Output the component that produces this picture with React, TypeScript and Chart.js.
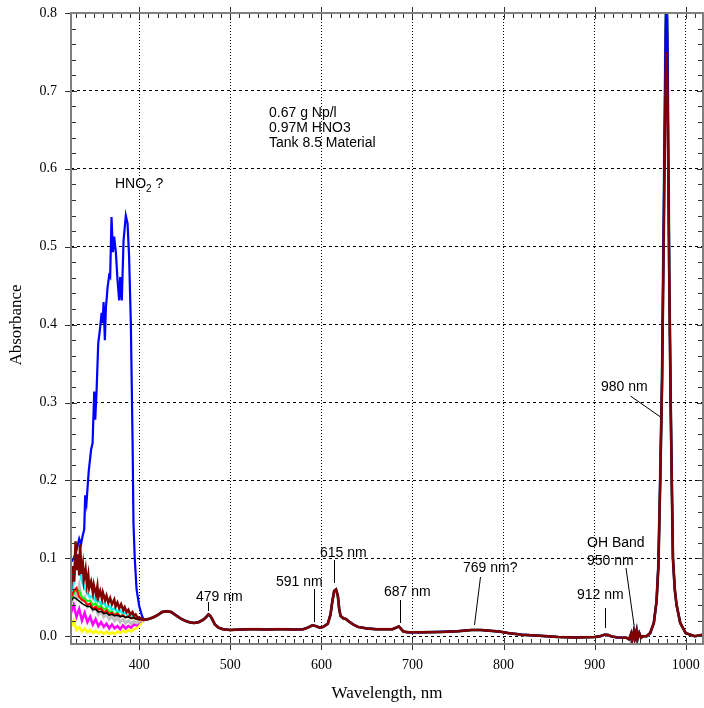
import React, { useEffect, useRef } from "react";
import { Chart, registerables } from "chart.js";

Chart.register(...registerables);

// ---------- tick labels ----------
const X_TICKS = [400, 500, 600, 700, 800, 900, 1000];
const Y_TICKS = [0, 0.1, 0.2, 0.3, 0.4, 0.5, 0.6, 0.7, 0.8];

// ---------- shared visible spectrum (405-955 nm) ----------
const tailWl = [405, 410, 415, 420, 425, 430, 435, 440, 445, 450, 455, 460, 465, 470, 473, 476, 478, 480, 483, 487, 492, 500, 510, 520, 530, 540, 550, 560, 570, 580, 585, 590, 594, 598, 602, 607, 610, 612, 614, 616, 618, 619.5, 621, 624, 627, 630, 635, 640, 650, 660, 670, 678, 682, 685, 687, 690, 695, 710, 730, 750, 765, 775, 785, 795, 805, 820, 840, 860, 880, 900, 906, 911, 915, 919, 925, 935, 938, 940, 941, 943, 944, 946, 947, 949, 951, 953];
const tailAbs = [0.021, 0.022, 0.024, 0.027, 0.031, 0.032, 0.031, 0.027, 0.023, 0.02, 0.018, 0.017, 0.018, 0.021, 0.024, 0.028, 0.026, 0.022, 0.015, 0.011, 0.009, 0.008, 0.0085, 0.009, 0.009, 0.0085, 0.009, 0.009, 0.0085, 0.009, 0.011, 0.014, 0.013, 0.011, 0.012, 0.016, 0.028, 0.045, 0.058, 0.06, 0.052, 0.035, 0.026, 0.023, 0.022, 0.019, 0.015, 0.012, 0.01, 0.009, 0.009, 0.009, 0.011, 0.0125, 0.01, 0.006, 0.005, 0.005, 0.0055, 0.0065, 0.008, 0.008, 0.007, 0.006, 0.004, 0.002, 0.0005, -0.001, -0.0015, -0.001, 0.0, 0.002, 0.0015, -0.0005, -0.0015, -0.002, -0.004, 0.003, -0.005, 0.006, -0.003, 0.007, -0.004, 0.004, -0.002, 0.0];

// ---------- 980 nm band ----------
const peakWl = [957, 961, 965, 968, 970, 972, 974, 976, 978, 979, 980, 981, 982, 983.5, 984.7, 986, 988, 990, 994, 1000, 1010, 1019];
const peakMaroon = [0.0, 0.004, 0.017, 0.045, 0.09, 0.2, 0.32, 0.52, 0.72, 0.75, 0.7, 0.58, 0.45, 0.3, 0.2, 0.1, 0.06, 0.04, 0.017, 0.004, 0.0, 0.002];
const peakHigh = [0.0, 0.004, 0.017, 0.045, 0.09, 0.2, 0.33, 0.55, 0.78, 0.84, 0.76, 0.6, 0.46, 0.3, 0.2, 0.1, 0.06, 0.04, 0.017, 0.004, 0.0, 0.002];

// ---------- UV region per series ----------
const blueWl = [325, 328, 331, 334, 336, 338, 339.5, 340.6, 342, 344.4, 347, 348.7, 350.5, 351.6, 353, 354.9, 356.7, 358.6, 359.7, 360.8, 362.2, 363.3, 365.2, 366.9, 368, 369.5, 371, 372.4, 374.3, 376.1, 377.9, 379, 380.8, 382.7, 385.2, 387.1, 388.8, 390.7, 392.6, 393.6, 395, 397, 400, 403];
const blueAbs = [0.095, 0.1, 0.11, 0.125, 0.118, 0.13, 0.137, 0.181, 0.171, 0.211, 0.239, 0.248, 0.314, 0.278, 0.312, 0.376, 0.393, 0.415, 0.402, 0.429, 0.38, 0.421, 0.448, 0.463, 0.461, 0.538, 0.493, 0.513, 0.492, 0.457, 0.431, 0.461, 0.431, 0.508, 0.54, 0.53, 0.487, 0.402, 0.252, 0.145, 0.1, 0.06, 0.038, 0.026];

const maroonWl = [325, 327, 328.5, 330, 331, 333, 334, 335, 336.5, 338, 339, 341, 342.5, 344, 345, 347, 349, 350, 352.5, 354, 355, 357, 359, 360, 362.5, 364, 366, 368, 370, 372.5, 374, 376, 378, 380, 382.5, 384, 386, 388, 390, 392.5, 394, 396, 398, 400];
const maroonAbs = [0.06, 0.09, 0.07, 0.122, 0.085, 0.105, 0.078, 0.118, 0.08, 0.092, 0.072, 0.086, 0.066, 0.078, 0.062, 0.07, 0.056, 0.066, 0.053, 0.064, 0.05, 0.058, 0.048, 0.056, 0.046, 0.052, 0.043, 0.049, 0.041, 0.047, 0.038, 0.043, 0.036, 0.041, 0.033, 0.037, 0.031, 0.034, 0.028, 0.031, 0.026, 0.028, 0.024, 0.024];

const uvWl = [325, 328, 331, 334, 337, 340, 343, 346, 349, 352, 355, 358, 361, 364, 367, 370, 373, 376, 379, 382, 385, 388, 391, 394, 397, 400];
const cyanAbs = [0.05, 0.07, 0.1, 0.09, 0.07, 0.062, 0.055, 0.05, 0.052, 0.045, 0.047, 0.041, 0.043, 0.037, 0.039, 0.034, 0.036, 0.031, 0.033, 0.029, 0.03, 0.026, 0.027, 0.024, 0.024, 0.022];
const grayAbs = [0.04, 0.06, 0.05, 0.065, 0.045, 0.05, 0.038, 0.042, 0.033, 0.036, 0.028, 0.032, 0.025, 0.029, 0.022, 0.026, 0.02, 0.024, 0.018, 0.022, 0.017, 0.02, 0.016, 0.019, 0.017, 0.019];
const magentaAbs = [0.03, 0.04, 0.025, 0.035, 0.02, 0.03, 0.018, 0.025, 0.015, 0.022, 0.013, 0.018, 0.012, 0.016, 0.01, 0.015, 0.01, 0.013, 0.009, 0.014, 0.01, 0.013, 0.011, 0.015, 0.014, 0.018];
const yellowAbs = [0.012, 0.02, 0.008, 0.012, 0.006, 0.01, 0.005, 0.008, 0.004, 0.007, 0.004, 0.006, 0.003, 0.006, 0.003, 0.005, 0.003, 0.006, 0.004, 0.007, 0.005, 0.008, 0.006, 0.009, 0.01, 0.014];
const redAbs = [0.05, 0.058, 0.062, 0.05, 0.047, 0.045, 0.04, 0.042, 0.035, 0.038, 0.034, 0.036, 0.03, 0.033, 0.028, 0.03, 0.027, 0.029, 0.025, 0.027, 0.024, 0.026, 0.023, 0.024, 0.022, 0.021];
const greenAbs = [0.045, 0.055, 0.06, 0.058, 0.05, 0.048, 0.045, 0.046, 0.04, 0.042, 0.037, 0.039, 0.034, 0.036, 0.031, 0.032, 0.028, 0.03, 0.026, 0.027, 0.024, 0.025, 0.023, 0.023, 0.022, 0.021];
const blackAbs = [0.045, 0.05, 0.048, 0.045, 0.042, 0.04, 0.038, 0.038, 0.034, 0.035, 0.031, 0.032, 0.029, 0.03, 0.027, 0.028, 0.026, 0.027, 0.025, 0.026, 0.024, 0.025, 0.023, 0.024, 0.022, 0.022];

// ---------- annotations ----------
const noteLines = ["0.67 g Np/l", "0.97M HNO3", "Tank 8.5 Material"];
const peakLabels = [
  { text: "479 nm", x: 196, y: 597, line: [208, 602, 208, 611] },
  { text: "591 nm", x: 276, y: 582, line: [314, 589, 314, 622] },
  { text: "615 nm", x: 320, y: 553, line: [334, 560, 334, 583] },
  { text: "687 nm", x: 384, y: 592, line: [400, 600, 400, 623] },
  { text: "769 nm?", x: 463, y: 568, line: [480, 577, 474, 625] },
  { text: "912 nm", x: 577, y: 595, line: [605, 608, 605, 628] },
  { text: "980 nm", x: 601, y: 387, line: [630, 396, 660, 417] },
];

type Pt = { x: number; y: number };
function pts(wl: number[], ab: number[]): Pt[] {
  return wl.map((w, i) => ({ x: w, y: ab[i] }));
}
function full(uvW: number[], uvA: number[], pk: number[]): Pt[] {
  return [...pts(uvW, uvA), ...pts(tailWl, tailAbs), ...pts(peakWl, pk)];
}

const SANS = "'Liberation Sans', Arial, sans-serif";
const SERIF = "'Liberation Serif', 'Times New Roman', serif";

const framePlugin = {
  id: "framePlugin",
  afterDraw(chart: any) {
    const { ctx, chartArea } = chart;
    const { left, right, top, bottom } = chartArea;
    const xs = chart.scales.x;
    const ys = chart.scales.y;
    ctx.save();
    // ticks
    ctx.strokeStyle = "#333";
    ctx.lineWidth = 1;
    ctx.beginPath();
    for (let w = 330; w <= 1010; w += 10) {
      const px = Math.round(xs.getPixelForValue(w)) + 0.5;
      const major = w % 100 === 0;
      if (major) {
        ctx.moveTo(px, bottom + 6); ctx.lineTo(px, bottom - 6);
        ctx.moveTo(px, top - 6); ctx.lineTo(px, top + 6);
      } else {
        ctx.moveTo(px, bottom); ctx.lineTo(px, bottom - 5);
        ctx.moveTo(px, top); ctx.lineTo(px, top + 5);
      }
    }
    for (let k = 0; k <= 40; k++) {
      const v = k * 0.02;
      const py = Math.round(ys.getPixelForValue(v)) + 0.5;
      const major = k % 5 === 0;
      if (major) {
        ctx.moveTo(left - 6, py); ctx.lineTo(left + 6, py);
        ctx.moveTo(right - 6, py); ctx.lineTo(right + 6, py);
      } else {
        ctx.moveTo(left, py); ctx.lineTo(left + 5, py);
        ctx.moveTo(right, py); ctx.lineTo(right - 5, py);
      }
    }
    ctx.stroke();
    // frame
    ctx.strokeStyle = "#808080";
    ctx.lineWidth = 2;
    ctx.strokeRect(left, top, right - left, bottom - top);

    // axis titles
    ctx.fillStyle = "#000";
    ctx.font = `17px ${SERIF}`;
    ctx.textAlign = "center";
    ctx.textBaseline = "middle";
    ctx.fillText("Wavelength, nm", (left + right) / 2, 694);
    ctx.save();
    ctx.translate(17, 325);
    ctx.rotate(-Math.PI / 2);
    ctx.fillText("Absorbance", 0, 0);
    ctx.restore();

    // annotations
    ctx.font = `14px ${SANS}`;
    ctx.textAlign = "left";
    ctx.textBaseline = "middle";
    noteLines.forEach((t, i) => ctx.fillText(t, 269, 113 + i * 15));
    // HNO2 ?
    ctx.fillText("HNO", 115, 184);
    const wH = ctx.measureText("HNO").width;
    ctx.font = `10px ${SANS}`;
    ctx.fillText("2", 115 + wH, 189);
    const w2 = ctx.measureText("2").width;
    ctx.font = `14px ${SANS}`;
    ctx.fillText(" ?", 115 + wH + w2, 184);
    // OH band
    ctx.fillText("OH Band", 587, 543);
    ctx.fillText("950 nm", 587, 561);
    ctx.strokeStyle = "#000";
    ctx.lineWidth = 1;
    ctx.beginPath();
    ctx.moveTo(626, 568); ctx.lineTo(634, 625);
    peakLabels.forEach((p) => {
      ctx.fillText(p.text, p.x, p.y);
      ctx.moveTo(p.line[0] + 0.5, p.line[1]);
      ctx.lineTo(p.line[2] + 0.5, p.line[3]);
    });
    ctx.stroke();
    ctx.restore();
  },
};

export default function App() {
  const ref = useRef<HTMLCanvasElement | null>(null);
  useEffect(() => {
    if (!ref.current) return;
    const mk = (label: string, data: Pt[], color: string, width = 2) => ({
      label,
      data,
      borderColor: color,
      backgroundColor: color,
      borderWidth: width,
      pointRadius: 0,
      tension: 0,
      fill: false,
    });
    const chart = new Chart(ref.current, {
      type: "line",
      data: {
        datasets: [
          mk("maroon", full(maroonWl, maroonAbs, peakMaroon), "#800000", 2.5),
          mk("blue", full(blueWl, blueAbs, peakHigh), "#0000ff", 2.2),
          mk("black", full(uvWl, blackAbs, peakHigh), "#000000", 1.5),
          mk("red", full(uvWl, redAbs, peakHigh), "#ff0000", 2),
          mk("green", full(uvWl, greenAbs, peakHigh), "#00ff00", 2),
          mk("cyan", full(uvWl, cyanAbs, peakHigh), "#00ffff", 2.5),
          mk("gray", full(uvWl, grayAbs, peakHigh), "#c0c0c0", 3),
          mk("magenta", full(uvWl, magentaAbs, peakHigh), "#ff00ff", 2.5),
          mk("yellow", full(uvWl, yellowAbs, peakHigh), "#ffff00", 2.5),
        ],
      },
      options: {
        animation: false,
        responsive: false,
        parsing: false,
        normalized: true,
        layout: { padding: { left: 0, top: 13, right: 1, bottom: 0 } },
        plugins: { legend: { display: false }, tooltip: { enabled: false } },
        scales: {
          x: {
            type: "linear",
            min: 325,
            max: 1019,
            afterFit: (s: any) => { s.height = 64; s.paddingLeft = 0; s.paddingRight = 0; },
            afterBuildTicks: (s: any) => { s.ticks = X_TICKS.map((v) => ({ value: v })); },
            grid: { color: "#000", lineWidth: 1, drawTicks: false },
            border: { display: false, dash: [1, 2] },
            ticks: {
              font: { family: SERIF, size: 14 },
              color: "#000",
              padding: 13,
              maxRotation: 0,
              callback: (v: any) => String(v),
            },
          },
          y: {
            type: "linear",
            min: -0.01,
            max: 0.8,
            afterFit: (s: any) => { s.width = 71; s.paddingTop = 0; s.paddingBottom = 0; },
            afterBuildTicks: (s: any) => { s.ticks = Y_TICKS.map((v) => ({ value: v })); },
            grid: { color: "#000", lineWidth: 1, drawTicks: false },
            border: { display: false, dash: [3, 3] },
            ticks: {
              font: { family: SERIF, size: 14 },
              color: "#000",
              padding: 14,
              callback: (v: any) => Number(v).toFixed(1),
            },
          },
        },
      },
      plugins: [framePlugin],
    } as any);
    return () => chart.destroy();
  }, []);
  return (
    <div style={{ position: "absolute", left: 0, top: 0, width: 704, height: 708, background: "#fff" }}>
      <canvas ref={ref} width={704} height={708} style={{ display: "block" }} />
    </div>
  );
}
